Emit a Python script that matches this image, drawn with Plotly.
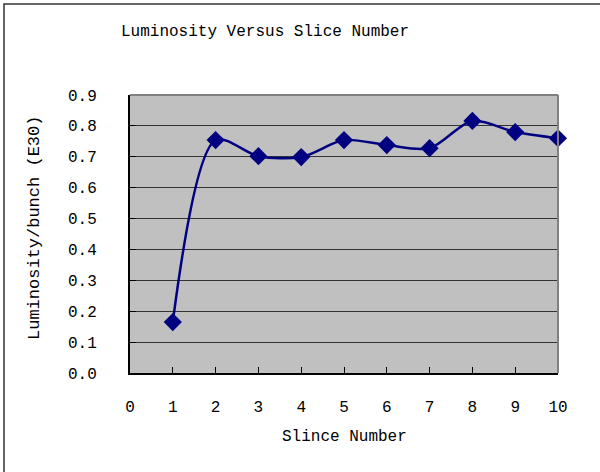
import plotly.graph_objects as go

slices = [1, 2, 3, 4, 5, 6, 7, 8, 9, 10]
luminosity = [0.165, 0.754, 0.702, 0.699, 0.754, 0.738, 0.728, 0.816, 0.780, 0.760]
y_ticks = [0.0, 0.1, 0.2, 0.3, 0.4, 0.5, 0.6, 0.7, 0.8, 0.9]
x_ticks = [0, 1, 2, 3, 4, 5, 6, 7, 8, 9, 10]

FONT = "Liberation Mono"
W, H = 600, 472
L, R, T, B = 130, 42, 95, 99
pw, ph = W - L - R, H - T - B

def px(x):
    return (x - L) / pw

def py(y):
    return (H - B - y) / ph

fig = go.Figure()
fig.add_trace(go.Scatter(
    x=slices, y=luminosity, mode="lines+markers",
    line=dict(color="#000080", width=2.5, shape="spline", smoothing=0.85),
    marker=dict(symbol="diamond", size=14, color="#000080"),
    cliponaxis=False, showlegend=False,
))

fig.update_layout(
    width=W, height=H,
    margin=dict(l=L, r=R, t=T, b=B),
    paper_bgcolor="white", plot_bgcolor="#C0C0C0",
    font=dict(family=FONT, size=16, color="black"),
    xaxis=dict(range=[0, 10], tickvals=x_ticks, ticks="inside", ticklen=6,
               tickcolor="black", showgrid=False, zeroline=False,
               showline=True, linecolor="black", linewidth=2,
               ticklabelstandoff=18, tickfont=dict(family=FONT, size=16)),
    yaxis=dict(range=[0, 0.9], tickvals=y_ticks, tickformat=".1f",
               ticks="inside", ticklen=6, tickcolor="black",
               showgrid=True, gridcolor="#333333", gridwidth=1, zeroline=False,
               showline=True, linecolor="black", linewidth=2,
               ticklabelstandoff=28, tickfont=dict(family=FONT, size=16)),
    shapes=[
        dict(type="line", xref="paper", yref="paper", x0=0, x1=1, y0=1, y1=1,
             line=dict(color="#808080", width=2)),
        dict(type="line", xref="paper", yref="paper", x0=1, x1=1, y0=0, y1=1,
             line=dict(color="#808080", width=2)),
        dict(type="rect", xref="paper", yref="paper",
             x0=px(4), x1=px(620), y0=py(490), y1=py(4),
             line=dict(color="#333333", width=1.5)),
    ],
    annotations=[
        dict(text="Luminosity Versus Slice Number", xref="paper", yref="paper",
             x=px(265), y=py(32), xanchor="center", yanchor="middle",
             showarrow=False, font=dict(family=FONT, size=16)),
        dict(text="Slince Number", xref="paper", yref="paper",
             x=px(344), y=py(437), xanchor="center", yanchor="middle",
             showarrow=False, font=dict(family=FONT, size=16)),
        dict(text="Luminosity/bunch (E30)", xref="paper", yref="paper",
             x=px(34), y=py(228), xanchor="center", yanchor="middle",
             textangle=-90, showarrow=False, font=dict(family=FONT, size=17)),
    ],
)

fig.write_html("out.html", config={"displayModeBar": False},
               post_script="document.body.style.margin='0';document.body.style.overflow='hidden';")
